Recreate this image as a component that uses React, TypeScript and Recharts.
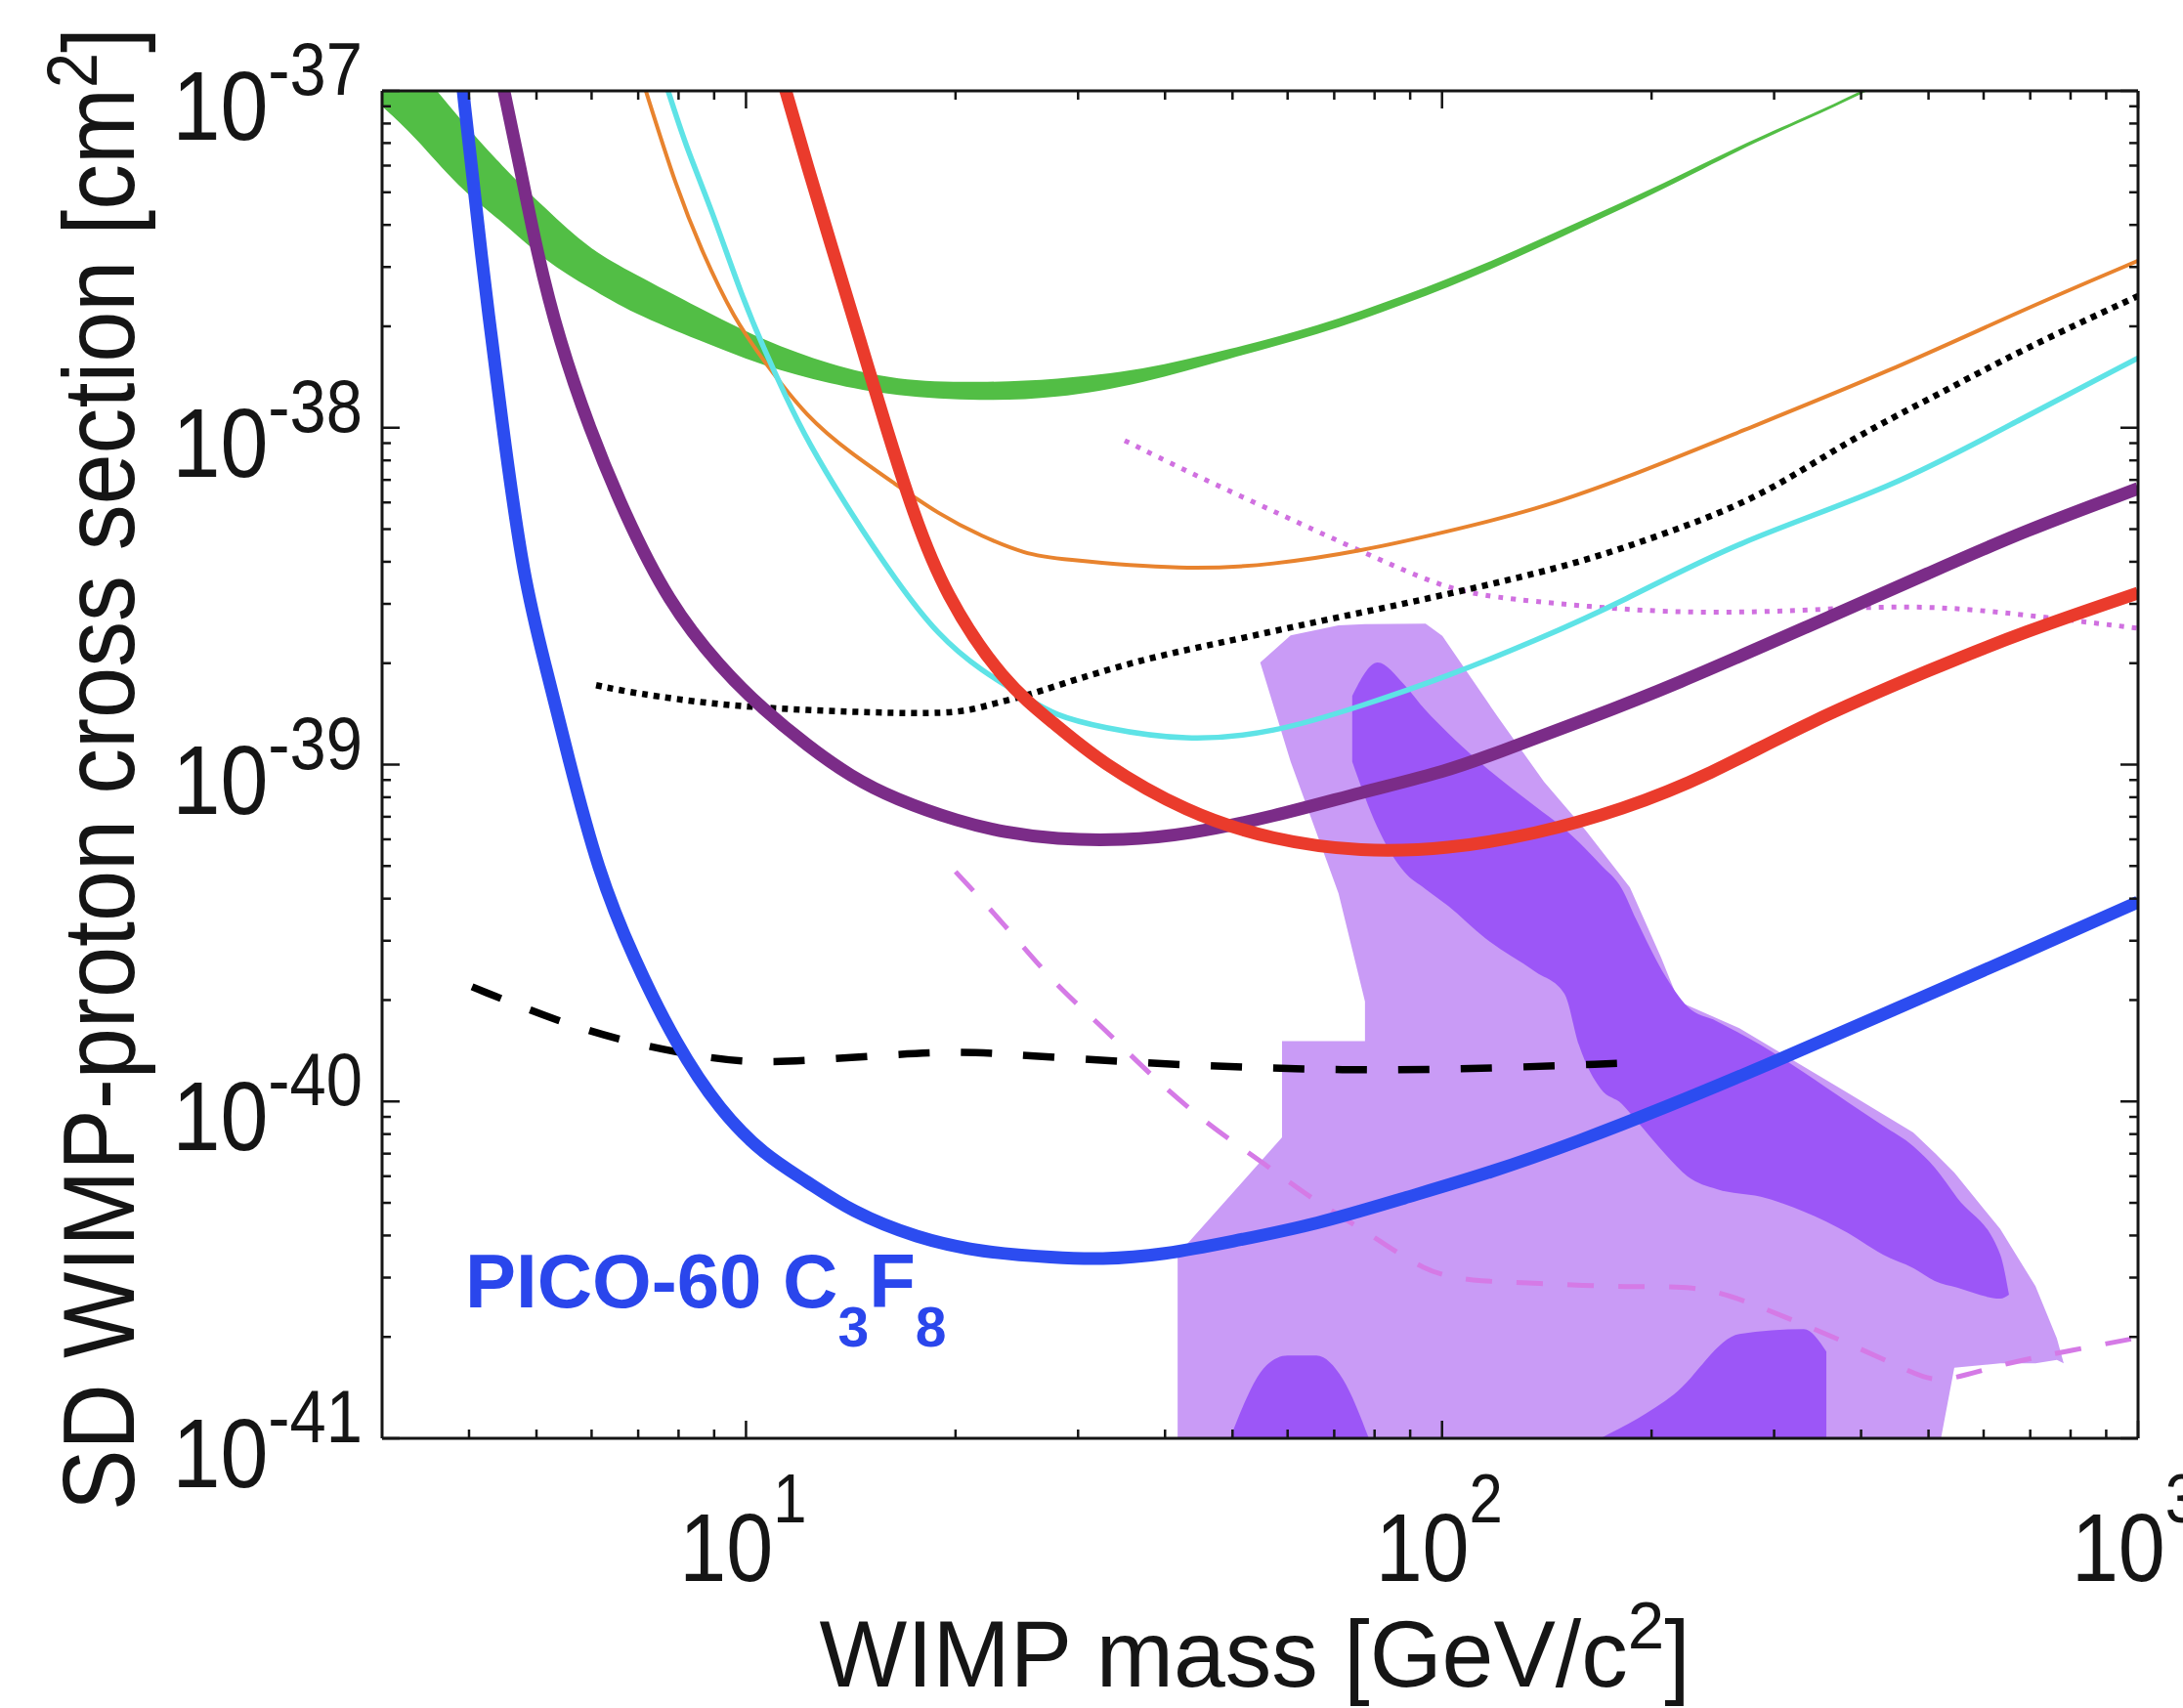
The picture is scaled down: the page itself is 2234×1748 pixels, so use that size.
import React from "react";
import { ComposedChart, Line, Area, XAxis, YAxis } from "recharts";

const FONT = '"Liberation Sans", Arial, Helvetica, sans-serif';
const INK = "#151515";

// tick positions (log axes)
const xTicks = [4, 5, 6, 7, 8, 9, 10, 20, 30, 40, 50, 60, 70, 80, 90, 100, 200, 300, 400, 500, 600, 700, 800, 900, 1000];
const yTicks = [
  1e-41, 2e-41, 3e-41, 4e-41, 5e-41, 6e-41, 7e-41, 8e-41, 9e-41,
  1e-40, 2e-40, 3e-40, 4e-40, 5e-40, 6e-40, 7e-40, 8e-40, 9e-40,
  1e-39, 2e-39, 3e-39, 4e-39, 5e-39, 6e-39, 7e-39, 8e-39, 9e-39,
  1e-38, 2e-38, 3e-38, 4e-38, 5e-38, 6e-38, 7e-38, 8e-38, 9e-38,
  1e-37,
];

// PICO-60 C3F8
const pico = [
  { m: 3.83, s: 1.6e-37 }, { m: 3.92, s: 1e-37 }, { m: 4.16, s: 3.3e-38 }, { m: 4.47, s: 1.0e-38 },
  { m: 4.79, s: 3.55e-39 }, { m: 5.16, s: 1.94e-39 }, { m: 5.54, s: 1.07e-39 }, { m: 6.13, s: 4.81e-40 },
  { m: 6.89, s: 2.66e-40 }, { m: 7.94, s: 1.47e-40 }, { m: 9.18, s: 9.37e-41 }, { m: 10.62, s: 6.94e-41 },
  { m: 12.24, s: 5.79e-41 }, { m: 14.16, s: 4.71e-41 }, { m: 17.58, s: 3.93e-41 }, { m: 21.83, s: 3.56e-41 },
  { m: 27.8, s: 3.44e-41 }, { m: 32.2, s: 3.39e-41 }, { m: 39.97, s: 3.51e-41 }, { m: 49.6, s: 3.83e-41 },
  { m: 66.2, s: 4.32e-41 }, { m: 88.2, s: 5.17e-41 }, { m: 117.6, s: 6.15e-41 }, { m: 157.3, s: 7.62e-41 },
  { m: 209.8, s: 9.62e-41 }, { m: 287.1, s: 1.26e-40 }, { m: 442.7, s: 1.86e-40 }, { m: 682.9, s: 2.75e-40 },
  { m: 1000, s: 3.91e-40 },
];

const purpleCurve = [
  { m: 4.28, s: 1.6e-37 }, { m: 4.49, s: 1e-37 }, { m: 4.73, s: 6.02e-38 }, { m: 5.01, s: 3.3e-38 },
  { m: 5.39, s: 1.82e-38 }, { m: 5.95, s: 1.0e-38 }, { m: 6.69, s: 5.55e-39 }, { m: 7.73, s: 3.04e-39 },
  { m: 9.18, s: 1.94e-39 }, { m: 10.62, s: 1.45e-39 }, { m: 12.24, s: 1.14e-39 }, { m: 14.16, s: 9.2e-40 },
  { m: 16.37, s: 7.9e-40 }, { m: 20.33, s: 6.75e-40 }, { m: 23.44, s: 6.3e-40 }, { m: 27.8, s: 6.0e-40 },
  { m: 35.0, s: 5.95e-40 }, { m: 42.9, s: 6.2e-40 }, { m: 57.2, s: 7.0e-40 }, { m: 76.5, s: 8.27e-40 },
  { m: 102, s: 9.57e-40 }, { m: 120.7, s: 1.09e-39 }, { m: 160.9, s: 1.36e-39 }, { m: 215.4, s: 1.72e-39 },
  { m: 331, s: 2.54e-39 }, { m: 510.5, s: 3.77e-39 }, { m: 683, s: 4.92e-39 }, { m: 1000, s: 6.6e-39 },
];

const redCurve = [
  { m: 10.8, s: 1.5e-37 }, { m: 11.4, s: 1e-37 }, { m: 12.24, s: 6.02e-38 }, { m: 13.36, s: 3.3e-38 },
  { m: 14.58, s: 1.82e-38 }, { m: 15.9, s: 1.0e-38 }, { m: 17.4, s: 5.55e-39 }, { m: 19.3, s: 3.2e-39 },
  { m: 23.44, s: 1.75e-39 }, { m: 27.8, s: 1.32e-39 }, { m: 32.2, s: 1.02e-39 }, { m: 42.9, s: 7.2e-40 },
  { m: 57.2, s: 5.96e-40 }, { m: 76.5, s: 5.5e-40 }, { m: 102, s: 5.61e-40 }, { m: 136, s: 6.21e-40 },
  { m: 181.4, s: 7.33e-40 }, { m: 242.7, s: 9.32e-40 }, { m: 331, s: 1.32e-39 }, { m: 510.5, s: 1.94e-39 },
  { m: 683, s: 2.47e-39 }, { m: 1000, s: 3.23e-39 },
];

const orangeCurve = [
  { m: 6.75, s: 1.5e-37 }, { m: 7.18, s: 1e-37 }, { m: 7.94, s: 5.16e-38 }, { m: 8.66, s: 3.3e-38 },
  { m: 9.61, s: 2.11e-38 }, { m: 10.62, s: 1.57e-38 }, { m: 12.24, s: 1.07e-38 }, { m: 14.16, s: 8.39e-39 },
  { m: 16.37, s: 6.82e-39 }, { m: 18.88, s: 5.55e-39 }, { m: 21.83, s: 4.75e-39 }, { m: 25.25, s: 4.22e-39 },
  { m: 27.8, s: 4.08e-39 }, { m: 42.9, s: 3.77e-39 }, { m: 57.2, s: 3.92e-39 }, { m: 76.5, s: 4.3e-39 },
  { m: 102, s: 4.92e-39 }, { m: 136, s: 5.7e-39 }, { m: 181.4, s: 7.01e-39 }, { m: 267.4, s: 9.72e-39 },
  { m: 442.7, s: 1.48e-38 }, { m: 683, s: 2.24e-38 }, { m: 1000, s: 3.13e-38 },
];

const cyanCurve = [
  { m: 7.25, s: 1.5e-37 }, { m: 7.73, s: 1e-37 }, { m: 8.17, s: 6.97e-38 }, { m: 8.92, s: 4.46e-38 },
  { m: 9.86, s: 2.46e-38 }, { m: 10.62, s: 1.71e-38 }, { m: 11.4, s: 1.24e-38 }, { m: 12.24, s: 9.16e-39 },
  { m: 14.16, s: 5.55e-39 }, { m: 16.37, s: 3.55e-39 }, { m: 18.88, s: 2.41e-39 }, { m: 21.83, s: 1.89e-39 },
  { m: 25.25, s: 1.58e-39 }, { m: 27.8, s: 1.4e-39 }, { m: 32.2, s: 1.29e-39 }, { m: 42.9, s: 1.17e-39 },
  { m: 57.2, s: 1.24e-39 }, { m: 76.5, s: 1.49e-39 }, { m: 102, s: 1.83e-39 }, { m: 136, s: 2.33e-39 },
  { m: 181.4, s: 3.04e-39 }, { m: 267.4, s: 4.63e-39 }, { m: 442.7, s: 6.6e-39 }, { m: 683, s: 1.07e-38 },
  { m: 1000, s: 1.61e-38 },
];

const blackDotted = [
  { m: 6.09, s: 1.72e-39 }, { m: 6.89, s: 1.63e-39 }, { m: 9.18, s: 1.5e-39 }, { m: 12.24, s: 1.45e-39 },
  { m: 16.37, s: 1.42e-39 }, { m: 20.33, s: 1.42e-39 }, { m: 22.47, s: 1.51e-39 }, { m: 25.25, s: 1.6e-39 },
  { m: 27.8, s: 1.71e-39 }, { m: 37.1, s: 2.06e-39 }, { m: 49.6, s: 2.33e-39 }, { m: 66.2, s: 2.66e-39 },
  { m: 88.2, s: 3.0e-39 }, { m: 117.6, s: 3.43e-39 }, { m: 157.3, s: 3.97e-39 }, { m: 209.8, s: 4.85e-39 },
  { m: 287.1, s: 6.21e-39 }, { m: 382.8, s: 9.16e-39 }, { m: 510.5, s: 1.24e-38 }, { m: 683, s: 1.71e-38 },
  { m: 1000, s: 2.46e-38 },
];

const blackDashed = [
  { m: 4.04, s: 2.19e-40 }, { m: 5.39, s: 1.72e-40 }, { m: 6.69, s: 1.51e-40 }, { m: 7.94, s: 1.4e-40 },
  { m: 9.86, s: 1.3e-40 }, { m: 12.24, s: 1.32e-40 }, { m: 16.37, s: 1.38e-40 }, { m: 20.33, s: 1.41e-40 },
  { m: 25.25, s: 1.37e-40 }, { m: 37.1, s: 1.3e-40 }, { m: 53.3, s: 1.26e-40 }, { m: 71.0, s: 1.24e-40 },
  { m: 102, s: 1.24e-40 }, { m: 182.6, s: 1.3e-40 },
];

const pinkDotted = [
  { m: 35.0, s: 9.16e-39 }, { m: 42.9, s: 7.44e-39 }, { m: 53.3, s: 6.05e-39 }, { m: 66.2, s: 4.92e-39 },
  { m: 76.5, s: 4.3e-39 }, { m: 88.2, s: 3.77e-39 }, { m: 102, s: 3.34e-39 }, { m: 117.6, s: 3.14e-39 },
  { m: 157.3, s: 2.96e-39 }, { m: 209.8, s: 2.83e-39 }, { m: 287.1, s: 2.83e-39 }, { m: 382.8, s: 2.92e-39 },
  { m: 510.5, s: 2.96e-39 }, { m: 683, s: 2.79e-39 }, { m: 1000, s: 2.54e-39 },
];

const pinkDashed = [
  { m: 20.0, s: 4.81e-40 }, { m: 23.44, s: 3.38e-40 }, { m: 27.8, s: 2.22e-40 }, { m: 32.2, s: 1.7e-40 },
  { m: 38.2, s: 1.19e-40 }, { m: 46.1, s: 8.53e-41 }, { m: 55.6, s: 6.53e-41 }, { m: 66.2, s: 5.0e-41 },
  { m: 78.5, s: 4.07e-41 }, { m: 94.7, s: 3.11e-41 }, { m: 109.6, s: 2.93e-41 }, { m: 136, s: 2.89e-41 },
  { m: 186.2, s: 2.8e-41 }, { m: 231.2, s: 2.84e-41 }, { m: 267.4, s: 2.6e-41 }, { m: 308.3, s: 2.31e-41 },
  { m: 382.8, s: 1.92e-41 }, { m: 475.3, s: 1.56e-41 }, { m: 518.7, s: 1.45e-41 }, { m: 633.9, s: 1.66e-41 },
  { m: 787, s: 1.81e-41 }, { m: 1000, s: 1.99e-41 },
];

// green band: lower and upper edge
const greenBand = [
  { m: 3.0, lo: 9.0e-38, hi: 1.54e-37 }, { m: 3.35, lo: 7.3e-38, hi: 1.2e-37 },
  { m: 3.86, lo: 5.16e-38, hi: 8.35e-38 }, { m: 4.47, lo: 4.09e-38, hi: 5.94e-38 },
  { m: 5.16, lo: 3.11e-38, hi: 4.46e-38 }, { m: 5.95, lo: 2.61e-38, hi: 3.39e-38 },
  { m: 6.89, lo: 2.18e-38, hi: 2.87e-38 }, { m: 8.55, lo: 1.82e-38, hi: 2.27e-38 },
  { m: 10.62, lo: 1.52e-38, hi: 1.81e-38 }, { m: 13.19, lo: 1.35e-38, hi: 1.54e-38 },
  { m: 16.37, lo: 1.24e-38, hi: 1.38e-38 }, { m: 21.83, lo: 1.2e-38, hi: 1.36e-38 },
  { m: 27.8, lo: 1.22e-38, hi: 1.39e-38 }, { m: 37.1, lo: 1.35e-38, hi: 1.48e-38 },
  { m: 49.6, lo: 1.61e-38, hi: 1.71e-38 }, { m: 66.2, lo: 1.88e-38, hi: 2.0e-38 },
  { m: 88.2, lo: 2.32e-38, hi: 2.46e-38 }, { m: 117.6, lo: 2.94e-38, hi: 3.11e-38 },
  { m: 157.3, lo: 3.9e-38, hi: 4.09e-38 }, { m: 209.8, lo: 5.13e-38, hi: 5.34e-38 },
  { m: 267.4, lo: 6.7e-38, hi: 6.88e-38 }, { m: 335.3, lo: 8.24e-38, hi: 8.41e-38 },
  { m: 400.5, lo: 9.8e-38, hi: 1.0e-37 }, { m: 478.5, lo: 1.17e-37, hi: 1.2e-37 },
];

// allowed regions (light and dark)
const lightUpper = [
  { m: 54.8, lo: 2.01e-39, hi: 2.01e-39 }, { m: 60.6, lo: 1.02e-39, hi: 2.42e-39 },
  { m: 71.0, lo: 4.15e-40, hi: 2.59e-39 }, { m: 77.5, lo: 1.98e-40, hi: 2.61e-39 },
  { m: 77.5, lo: 8e-42, hi: 2.61e-39 }, { m: 94.7, lo: 8e-42, hi: 2.62e-39 },
  { m: 100.1, lo: 8e-42, hi: 2.41e-39 }, { m: 120.7, lo: 8e-42, hi: 1.37e-39 },
  { m: 140.1, lo: 8e-42, hi: 8.9e-40 }, { m: 160.9, lo: 8e-42, hi: 6.37e-40 },
  { m: 186.2, lo: 8e-42, hi: 4.32e-40 }, { m: 206.5, lo: 8e-42, hi: 2.67e-40 },
  { m: 218.9, lo: 8e-42, hi: 1.98e-40 }, { m: 267.4, lo: 8e-42, hi: 1.65e-40 },
  { m: 382.8, lo: 8e-42, hi: 1.06e-40 }, { m: 475.3, lo: 8e-42, hi: 8.09e-41 },
  { m: 510.5, lo: 8e-42, hi: 7.03e-41 }, { m: 544.5, lo: 1.62e-41, hi: 6.15e-41 },
  { m: 633.9, lo: 1.67e-41, hi: 4.18e-41 }, { m: 712.2, lo: 1.67e-41, hi: 2.83e-41 },
  { m: 764.5, lo: 1.71e-41, hi: 1.98e-41 }, { m: 782, lo: 1.67e-41, hi: 1.67e-41 },
];
const lightLower = [
  { m: 41.7, lo: 8e-42, hi: 3.51e-41 }, { m: 58.9, lo: 8e-42, hi: 7.82e-41 },
  { m: 58.9, lo: 8e-42, hi: 1.51e-40 }, { m: 77.5, lo: 8e-42, hi: 1.51e-40 },
  { m: 92, lo: 8e-42, hi: 1.51e-40 },
];
const darkBand = [
  { m: 74.3, lo: 1.02e-39, hi: 1.6e-39 }, { m: 80.8, lo: 6.5e-40, hi: 2.01e-39 },
  { m: 88.2, lo: 4.81e-40, hi: 1.73e-39 }, { m: 94.7, lo: 4.27e-40, hi: 1.45e-39 },
  { m: 102, lo: 3.81e-40, hi: 1.24e-39 }, { m: 115.4, lo: 3.05e-40, hi: 9.84e-40 },
  { m: 136, lo: 2.43e-40, hi: 7.53e-40 }, { m: 149.9, lo: 2.09e-40, hi: 6.45e-40 },
  { m: 157.3, lo: 1.47e-40, hi: 5.88e-40 }, { m: 169, lo: 1.09e-40, hi: 5.04e-40 },
  { m: 181.4, lo: 9.82e-41, hi: 4.27e-40 }, { m: 189.8, lo: 8.82e-41, hi: 3.49e-40 },
  { m: 209.8, lo: 6.94e-41, hi: 2.34e-40 }, { m: 225.3, lo: 5.99e-41, hi: 1.91e-40 },
  { m: 248.2, lo: 5.49e-41, hi: 1.73e-40 }, { m: 287.1, lo: 5.21e-41, hi: 1.47e-40 },
  { m: 331, lo: 4.71e-41, hi: 1.22e-40 }, { m: 382.8, lo: 4.07e-41, hi: 9.95e-41 },
  { m: 430, lo: 3.51e-41, hi: 8.47e-41 }, { m: 475.3, lo: 3.2e-41, hi: 7.37e-41 },
  { m: 510.5, lo: 2.93e-41, hi: 6.36e-41 }, { m: 549.8, lo: 2.8e-41, hi: 5.17e-41 },
  { m: 633.9, lo: 2.6e-41, hi: 3.51e-41 }, { m: 652.6, lo: 2.67e-41, hi: 2.67e-41 },
];
const darkHillLeft = [
  { m: 49.6, lo: 8e-42, hi: 1e-41 }, { m: 56, lo: 8e-42, hi: 1.65e-41 }, { m: 60, lo: 8e-42, hi: 1.76e-41 },
  { m: 66, lo: 8e-42, hi: 1.76e-41 }, { m: 72, lo: 8e-42, hi: 1.5e-41 }, { m: 78.5, lo: 8e-42, hi: 1e-41 },
];
const darkHillRight = [
  { m: 169, lo: 8e-42, hi: 1e-41 }, { m: 215.4, lo: 8e-42, hi: 1.35e-41 }, { m: 267.4, lo: 8e-42, hi: 2.04e-41 },
  { m: 331, lo: 8e-42, hi: 2.11e-41 }, { m: 356.6, lo: 8e-42, hi: 1.81e-41 },
];

const range = (d) => [d.lo, d.hi];

const isDecade = (v) => {
  const l = Math.log10(v);
  return Math.abs(l - Math.round(l)) < 1e-6;
};

const XTick = ({ x, y, payload, side }) => {
  const v = payload.value;
  const major = isDecade(v);
  const len = major ? 18 : 9;
  const dir = side === "bottom" ? -1 : 1;
  return (
    <g>
      <line x1={x} y1={y} x2={x} y2={y + dir * len} stroke={INK} strokeWidth={2.5} />
      {major && side === "bottom" && (
        <g transform={`translate(${x - 3}, ${y + 146}) scale(0.88, 1)`}>
          <text textAnchor="middle" fontSize={98} fill={INK} fontFamily={FONT}>
            10
            <tspan fontSize={70} dy={-60}>{Math.round(Math.log10(v))}</tspan>
          </text>
        </g>
      )}
    </g>
  );
};

const YTick = ({ x, y, payload, side }) => {
  const v = payload.value;
  const major = isDecade(v);
  const len = major ? 18 : 9;
  const dir = side === "left" ? 1 : -1;
  return (
    <g>
      <line x1={x} y1={y} x2={x + dir * len} y2={y} stroke={INK} strokeWidth={2.5} />
      {major && side === "left" && (
        <g transform={`translate(${x - 20}, ${y + 50}) scale(0.88, 1)`}>
          <text textAnchor="end" fontSize={100} fill={INK} fontFamily={FONT}>
            10
            <tspan fontSize={76} dy={-46}>{Math.round(Math.log10(v))}</tspan>
          </text>
        </g>
      )}
    </g>
  );
};

const axisLine = { stroke: INK, strokeWidth: 3 };

export default function App() {
  const xCommon = {
    dataKey: "m",
    type: "number",
    scale: "log",
    domain: [3, 1000],
    allowDataOverflow: true,
    ticks: xTicks,
    interval: 0,
    height: 1,
    tickLine: false,
    tickSize: 0,
    tickMargin: 0,
    axisLine,
  };
  const yCommon = {
    type: "number",
    scale: "log",
    domain: [1e-41, 1e-37],
    allowDataOverflow: true,
    ticks: yTicks,
    interval: 0,
    width: 1,
    tickLine: false,
    tickSize: 0,
    tickMargin: 0,
    axisLine,
  };
  const ax = { xAxisId: "b", yAxisId: "l", isAnimationActive: false };

  return (
    <div style={{ position: "absolute", left: 0, top: 0, width: 2234, height: 1748, background: "#fff" }}>
      <ComposedChart width={2234} height={1748} margin={{ top: 92, right: 45, bottom: 275, left: 390 }}>
        <Area {...ax} data={lightUpper} dataKey={range} type="linear" fill="#C99BF6" fillOpacity={1} stroke="none" />
        <Area {...ax} data={lightLower} dataKey={range} type="linear" fill="#C99BF6" fillOpacity={1} stroke="none" />
        <Area {...ax} data={darkBand} dataKey={range} type="monotone" fill="#9C56F7" fillOpacity={1} stroke="none" />
        <Area {...ax} data={darkHillLeft} dataKey={range} type="monotone" fill="#9C56F7" fillOpacity={1} stroke="none" />
        <Area {...ax} data={darkHillRight} dataKey={range} type="monotone" fill="#9C56F7" fillOpacity={1} stroke="none" />

        <Area {...ax} data={greenBand} dataKey={range} type="basis" fill="#52BE45" fillOpacity={1} stroke="none" />

        <Line {...ax} data={blackDashed} dataKey="s" type="basis" stroke="#000" strokeWidth={7.5} strokeDasharray="32 32" dot={false} activeDot={false} />
        <Line {...ax} data={pinkDashed} dataKey="s" type="basis" stroke="#D57AE6" strokeWidth={5} strokeDasharray="27 25" dot={false} activeDot={false} />
        <Line {...ax} data={pinkDotted} dataKey="s" type="basis" stroke="#D070E0" strokeWidth={5} strokeDasharray="5 8" dot={false} activeDot={false} />
        <Line {...ax} data={blackDotted} dataKey="s" type="basis" stroke="#000" strokeWidth={6.5} strokeDasharray="6 6" dot={false} activeDot={false} />
        <Line {...ax} data={orangeCurve} dataKey="s" type="basis" stroke="#E8832E" strokeWidth={4} dot={false} activeDot={false} />
        <Line {...ax} data={cyanCurve} dataKey="s" type="basis" stroke="#5EE3E6" strokeWidth={5.5} dot={false} activeDot={false} />
        <Line {...ax} data={purpleCurve} dataKey="s" type="basis" stroke="#7B2C88" strokeWidth={13} dot={false} activeDot={false} />
        <Line {...ax} data={redCurve} dataKey="s" type="basis" stroke="#EA3B2C" strokeWidth={13} dot={false} activeDot={false} />
        <Line {...ax} data={pico} dataKey="s" type="basis" stroke="#2C4CF0" strokeWidth={13} dot={false} activeDot={false} />

        <XAxis xAxisId="b" orientation="bottom" {...xCommon} tick={(p) => <XTick {...p} side="bottom" />} />
        <XAxis xAxisId="t" orientation="top" {...xCommon} tick={(p) => <XTick {...p} side="top" />} />
        <YAxis yAxisId="l" orientation="left" {...yCommon} tick={(p) => <YTick {...p} side="left" />} />
        <YAxis yAxisId="r" orientation="right" {...yCommon} tick={(p) => <YTick {...p} side="right" />} />
      </ComposedChart>

      <svg width={2234} height={1748} style={{ position: "absolute", left: 0, top: 0, pointerEvents: "none" }}>
        <g transform="translate(137, 787) rotate(-90) scale(0.9, 1)">
          <text textAnchor="middle" fontSize={104} fill={INK} fontFamily={FONT}>
            SD WIMP-proton cross section [cm
            <tspan fontSize={72} dy={-38}>2</tspan>
            <tspan dy={38}>]</tspan>
          </text>
        </g>
        <g transform="translate(1284, 1726) scale(0.99, 1)">
          <text textAnchor="middle" fontSize={96} fill={INK} fontFamily={FONT}>
            WIMP mass [GeV/c
            <tspan fontSize={68} dy={-39}>2</tspan>
            <tspan dy={39}>]</tspan>
          </text>
        </g>
        <g transform="translate(476, 1338)">
          <text fontSize={78} fontWeight="bold" fill="#2A46EC" fontFamily={FONT}>
            PICO-60 C
            <tspan fontSize={57} dy={40}>3</tspan>
            <tspan fontSize={78} dy={-40}>F</tspan>
            <tspan fontSize={57} dy={40}>8</tspan>
          </text>
        </g>
      </svg>
    </div>
  );
}
